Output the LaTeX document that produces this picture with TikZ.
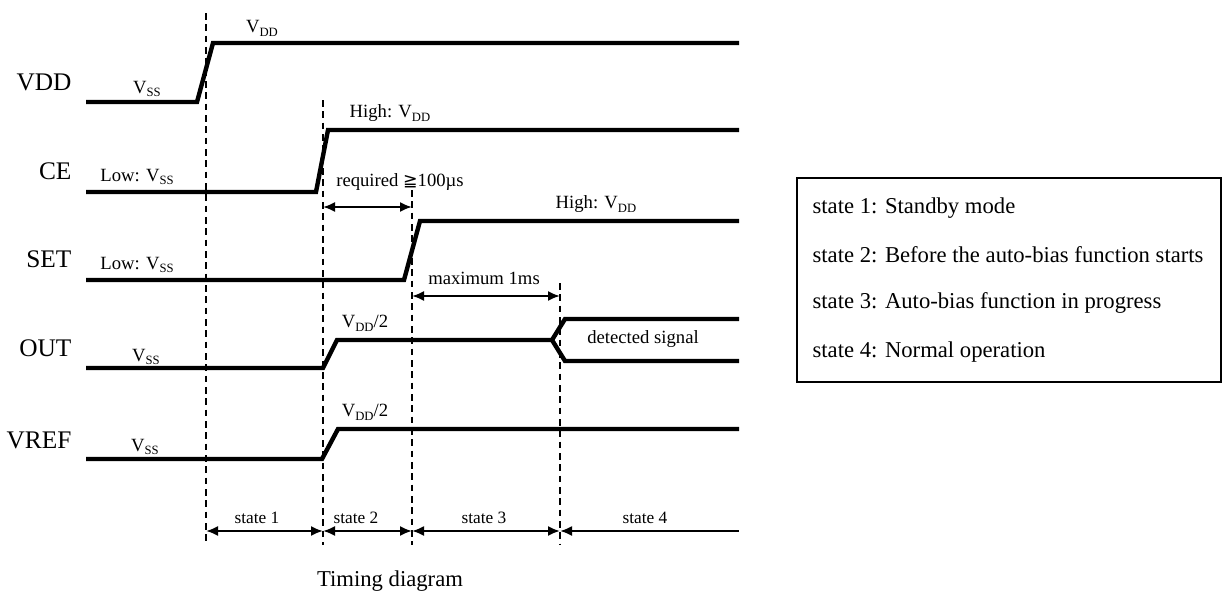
\documentclass[tikz,border=0pt]{standalone}
\usepackage{fontspec}
\setmainfont{Liberation Serif}
\newfontfamily\symbfont{DejaVu Sans}
\usetikzlibrary{arrows.meta,positioning}

% supply level with a lowered subscript
\newcommand{\lvl}[1]{V\raisebox{-0.45ex}{\fontsize{9.5}{10}\selectfont #1}}

\begin{document}
\begin{tikzpicture}[
  x=0.75pt, y=-0.75pt,
  >={Latex[length=9pt,width=7.5pt]},
  every node/.style={font=\fontsize{14}{16}\selectfont, inner sep=1pt},
  siglabel/.style={anchor=east, font=\fontsize{19}{21}\selectfont},
  signal/.style={line width=3.3pt, line join=miter},
  guide/.style={line width=1.8pt, dash pattern=on 5pt off 3.5pt},
  span/.style={line width=1.5pt},
  statelabel/.style={font=\fontsize{13}{15}\selectfont},
  legendline/.style={anchor=west, font=\fontsize{17}{19}\selectfont}
]
\useasboundingbox (0,0) rectangle (1224,600);

% state boundaries
\coordinate (t1top) at (206,13);  \coordinate (t1bot) at (206,545);
\coordinate (t2top) at (323,100); \coordinate (t2bot) at (323,545);
\coordinate (t3top) at (412,190); \coordinate (t3bot) at (412,545);
\coordinate (t4top) at (560,283); \coordinate (t4bot) at (560,545);
\draw[guide] (t1top) -- (t1bot);
\draw[guide] (t2top) -- (t2bot);
\draw[guide] (t3top) -- (t3bot);
\draw[guide] (t4top) -- (t4bot);

% signal names
\node[siglabel] (vdd)  at (73,82)  {VDD};
\node[siglabel] (ce)   at (73,171) {CE};
\node[siglabel] (set)  at (73,259) {SET};
\node[siglabel] (out)  at (73,348) {OUT};
\node[siglabel] (vref) at (73,440) {VREF};

% waveforms
\draw[signal] (86,102) -- (197,102) -- (213,43) -- (739,43);
\draw[signal] (86,192) -- (316,192) -- (328,130) -- (739,130);
\draw[signal] (86,280) -- (404,280) -- (420,221) -- (739,221);
\draw[signal] (86,368) -- (323,368) -- (337,340) -- (552,340) -- (565,319) -- (739,319);
\draw[signal] (552,340) -- (565,361) -- (739,361);
\draw[signal] (86,459) -- (322,459) -- (338,429) -- (739,429);

% levels
\node (vddlow)  at (147,89)  {\lvl{SS}};
\node (vddhigh) at (262,28)  {\lvl{DD}};
\node (celow)   at (137,177) {Low: \lvl{SS}};
\node (cehigh)  at (390,113) {High: \lvl{DD}};
\node (setlow)  at (137,265) {Low: \lvl{SS}};
\node (sethigh) at (596,204) {High: \lvl{DD}};
\node (outlow)  at (146,357) {\lvl{SS}};
\node (outmid)  at (365,323) {\lvl{DD}/2};
\node (outsig)  at (643,339) {detected signal};
\node (vreflow) at (145,447) {\lvl{SS}};
\node (vrefmid) at (365,412) {\lvl{DD}/2};

% timing requirements
\coordinate (req1) at (323,207); \coordinate (req2) at (412,207);
\coordinate (max1) at (412,296); \coordinate (max2) at (560,296);
\node (req) at (400,182) {required {\symbfont\fontsize{13}{15}\selectfont ≧}100µs};
\node (max) at (484,278) {maximum 1ms};
\draw[span, <->] (req1) -- (req2);
\draw[span, <->] (max1) -- (max2);

% states
\coordinate (s1) at (206,531); \coordinate (s2) at (323,531);
\coordinate (s3) at (412,531); \coordinate (s4) at (560,531);
\coordinate (s5) at (739,531);
\draw[span, <->] (s1) -- (s2);
\draw[span, <->] (s2) -- (s3);
\draw[span, <->] (s3) -- (s4);
\draw[span, <-] (s4) -- (s5);
\node[statelabel] (st1) at (257,518) {state 1};
\node[statelabel] (st2) at (356,518) {state 2};
\node[statelabel] (st3) at (484,518) {state 3};
\node[statelabel] (st4) at (645,518) {state 4};

\node[font=\fontsize{17}{19}\selectfont] (title) at (390,581) {Timing diagram};

% legend
\draw[line width=1.2pt] (797,178) rectangle (1221,382);
\node[legendline] (leg1) at (811,208) {state 1: Standby mode};
\node[legendline] (leg2) at (811,255) {state 2: Before the auto-bias function starts};
\node[legendline] (leg3) at (811,303) {state 3: Auto-bias function in progress};
\node[legendline] (leg4) at (811,352) {state 4: Normal operation};
\end{tikzpicture}
\end{document}
